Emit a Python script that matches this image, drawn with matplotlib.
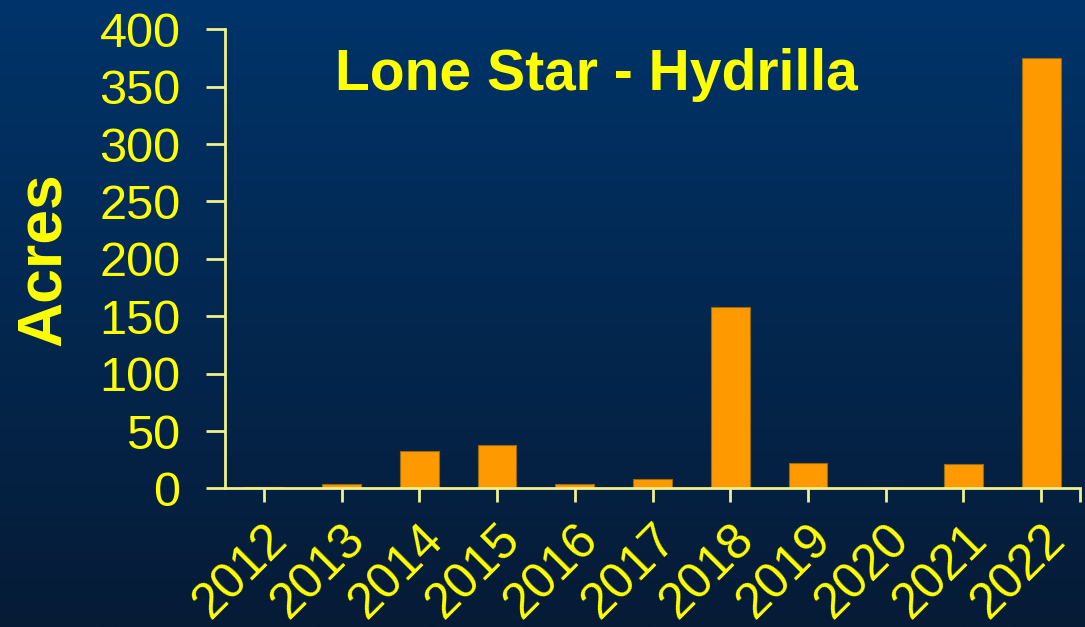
import matplotlib.pyplot as plt
import numpy as np
from matplotlib.colors import LinearSegmentedColormap

years = ['2012', '2013', '2014', '2015', '2016', '2017',
         '2018', '2019', '2020', '2021', '2022']
acres = [1, 4, 33, 38, 4, 8, 158, 22, 0, 21, 375]
y_ticks = [0, 50, 100, 150, 200, 250, 300, 350, 400]

TEXT = '#FFFF00'
AXIS = '#F0F08C'
BAR = '#FF9900'

plt.rcParams['font.family'] = ['Liberation Sans', 'DejaVu Sans']

fig = plt.figure(figsize=(10.85, 6.27), dpi=100)

# background gradient (top lighter navy -> bottom darker)
bg = fig.add_axes([0, 0, 1, 1], zorder=0)
cmap = LinearSegmentedColormap.from_list('bg', ['#00346A', '#061B36'])
bg.imshow(np.linspace(0, 1, 256).reshape(-1, 1), aspect='auto', cmap=cmap,
          extent=[0, 1, 0, 1])
bg.axis('off')

ax = fig.add_axes([0.2074, 0.2209, 0.7880, 0.7324], zorder=1)
ax.patch.set_alpha(0)

x = np.arange(len(years))
ax.bar(x, acres, width=0.5, color=BAR, edgecolor='#9A6A10', linewidth=0.8)

ax.set_xlim(-0.5, len(years) - 0.5)
ax.set_ylim(0, 400)
ax.set_yticks(y_ticks)
ax.set_xticks(x)
ax.set_xticklabels(years, rotation=45, ha='right', va='top',
                   rotation_mode='anchor')
ax.set_xticks([len(years) - 0.5], minor=True)

for s in ['top', 'right']:
    ax.spines[s].set_visible(False)
for s in ['left', 'bottom']:
    ax.spines[s].set_color(AXIS)
    ax.spines[s].set_linewidth(2)

ax.tick_params(axis='y', colors=AXIS, labelcolor=TEXT, labelsize=35,
               length=14, width=2, direction='out', pad=18)
ax.tick_params(axis='x', which='both', colors=AXIS, labelcolor=TEXT,
               labelsize=36, length=10, width=2, direction='out', pad=10)

ax.set_ylabel('Acres', color=TEXT, fontsize=45, fontweight='bold')
ax.yaxis.set_label_coords(-0.178, 0.50)

ax.text(0.4345, 0.90, 'Lone Star - Hydrilla', transform=ax.transAxes,
        ha='center', va='center', color=TEXT, fontsize=41, fontweight='bold')

fig.savefig('out.png', dpi=100)
